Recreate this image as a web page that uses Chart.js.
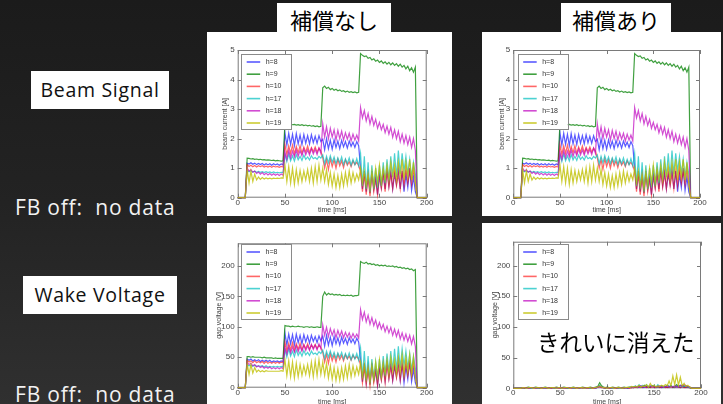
<!DOCTYPE html>
<html>
<head>
<meta charset="utf-8">
<script src="https://cdn.jsdelivr.net/npm/chart.js@4.4.1/dist/chart.umd.min.js"></script>
<style>
  html, body { margin: 0; padding: 0; }
  body {
    width: 723px; height: 404px; overflow: hidden; position: relative;
    background: linear-gradient(180deg, #1b1b1b 0%, #232323 50%, #303030 100%);
  }
  .white { position: absolute; background: #fff; }
  .head {
    position: absolute; background: #fff; color: #000; text-align: center;
    font-family: "Noto Sans CJK JP", sans-serif; font-size: 22px; line-height: 33px; height: 29px;
    overflow: visible;
  }
  .tag {
    position: absolute; background: #fff; color: #111; text-align: center; white-space: nowrap;
    font-family: "Open Sans", Lato, sans-serif; font-size: 19.5px; letter-spacing: 0.7px;
    line-height: 38px; height: 38px;
  }
  .note {
    position: absolute; color: #f2f2f2; white-space: pre;
    font-family: "Open Sans", Lato, sans-serif; font-size: 21px; letter-spacing: 0.8px; line-height: 24px;
  }
  .plot { position: absolute; }
  .gone {
    position: absolute; color: #000; white-space: nowrap;
    font-family: "Noto Sans CJK JP", sans-serif; font-size: 22.5px; line-height: 30px;
  }
</style>
</head>
<body>
  <div class="head" style="left:277px; top:3px; width:114px;">補償なし</div>
  <div class="head" style="left:561px; top:3px; width:110px;">補償あり</div>

  <div class="white" style="left:207px; top:32px; width:245px; height:184px;"></div>
  <div class="white" style="left:482px; top:32px; width:239px; height:184px;"></div>
  <div class="white" style="left:207px; top:223px; width:245px; height:190px;"></div>
  <div class="white" style="left:482px; top:223px; width:239px; height:190px;"></div>

  <div class="tag" style="left:31px; top:71px; width:138px;">Beam Signal</div>
  <div class="note" style="left:15px; top:195px;">FB off:  no data</div>
  <div class="tag" style="left:23px; top:276px; width:154px;">Wake Voltage</div>
  <div class="note" style="left:15px; top:382px;">FB off:  no data</div>

  <div class="plot" style="left:207px; top:32px; width:245px; height:184px;"><canvas id="beamOff"></canvas></div>
  <div class="plot" style="left:482px; top:32px; width:239px; height:184px;"><canvas id="beamOn"></canvas></div>
  <div class="plot" style="left:207px; top:223px; width:245px; height:190px;"><canvas id="gapOff"></canvas></div>
  <div class="plot" style="left:482px; top:223px; width:239px; height:190px;"><canvas id="gapOn"></canvas></div>

  <div class="gone" style="left:537px; top:326px;">きれいに消えた</div>

<script>
// time axis [ms], one sample every 2 ms
const timeMs = [0,2,4,6,8,10,12,14,16,18,20,22,24,26,28,30,32,34,36,38,40,42,44,46,48,
  50,52,54,56,58,60,62,64,66,68,70,72,74,76,78,80,82,84,86,88,
  90,92,94,96,98,100,102,104,106,108,110,112,114,116,118,120,122,124,126,128,
  130,132,134,136,138,140,142,144,146,148,150,152,154,156,158,160,162,164,166,168,170,172,174,176,178,180,182,184,186,188,
  190,192,194,196,198,200];

const harmonicLabels = ['h=8', 'h=9', 'h=10', 'h=17', 'h=18', 'h=19'];
const xTicks = [0, 50, 100, 150, 200];
const beamTicks = [0, 1, 2, 3, 4, 5];
const gapTicks = [0, 50, 100, 150, 200];

// beam current [A] per harmonic
const beamH8 = [0,0,0,0,0,1.17,1.14,1.18,1.13,1.17,1.12,1.16,1.12,1.16,1.11,1.15,1.11,1.15,1.10,1.15,1.11,1.14,1.10,1.14,1.11,
  2.20,1.78,2.18,1.80,2.15,1.76,2.17,1.82,2.12,1.80,2.14,1.84,2.10,1.82,2.13,1.86,2.08,1.84,2.10,1.90,
  1.98,1.62,2.00,1.66,1.95,1.64,1.96,1.70,1.92,1.66,1.94,1.72,1.90,1.68,1.92,1.74,1.88,1.70,1.90,1.76,
  1.00,0.30,0.90,0.20,0.80,0.15,0.90,0.30,0.70,0.10,0.80,0.35,0.90,0.30,1.00,0.40,0.90,0.30,0.80,0.45,1.00,0.30,0.90,0.20,0.80,0.35,1.00,0.25,0.70,0.20,
  0,0,0,0,0,0];
const beamH9 = [0,0,0,0,0,1.34,1.33,1.31,1.32,1.30,1.31,1.29,1.30,1.28,1.29,1.27,1.28,1.27,1.26,1.27,1.25,1.26,1.25,1.24,1.25,
  2.52,2.50,2.48,2.49,2.47,2.48,2.46,2.47,2.45,2.47,2.44,2.46,2.43,2.45,2.42,2.44,2.41,2.43,2.40,2.42,
  3.72,3.78,3.70,3.74,3.66,3.70,3.64,3.67,3.62,3.65,3.60,3.62,3.58,3.61,3.57,3.59,3.56,3.58,3.55,3.57,
  4.88,4.82,4.78,4.80,4.72,4.75,4.66,4.70,4.62,4.66,4.58,4.63,4.55,4.60,4.52,4.58,4.50,4.56,4.48,4.54,4.45,4.52,4.42,4.48,4.36,4.45,4.30,4.40,4.25,4.42,
  0,0,0,0,0,0];
const beamH10 = [0,0,0,0,0,1.12,1.06,1.10,1.05,1.09,1.04,1.08,1.05,1.08,1.04,1.07,1.04,1.07,1.03,1.07,1.04,1.06,1.03,1.06,1.04,
  1.80,1.46,1.76,1.50,1.78,1.48,1.74,1.52,1.76,1.50,1.72,1.54,1.75,1.52,1.70,1.56,1.72,1.54,1.68,1.58,
  1.35,1.00,1.30,0.95,1.32,1.05,1.28,1.00,1.30,1.08,1.25,1.02,1.28,1.10,1.22,1.05,1.25,1.12,1.20,1.08,
  0.90,0.20,0.80,0.10,0.70,0.05,0.80,0.20,0.60,0.10,0.70,0.30,0.80,0.20,0.90,0.35,0.80,0.30,0.90,0.40,0.80,0.30,0.90,0.40,1.00,0.50,0.90,0.45,1.00,0.50,
  0,0,0,0,0,0];
const beamH17 = [0,0,0,0,0,0.92,0.88,0.91,0.87,0.90,0.86,0.89,0.86,0.88,0.85,0.88,0.85,0.87,0.84,0.87,0.84,0.86,0.84,0.86,0.85,
  1.45,1.22,1.48,1.25,1.42,1.24,1.46,1.28,1.40,1.26,1.44,1.30,1.38,1.28,1.42,1.32,1.36,1.30,1.40,1.34,
  1.45,1.15,1.40,1.18,1.42,1.20,1.38,1.15,1.35,1.18,1.38,1.12,1.32,1.15,1.35,1.10,1.30,1.12,1.32,1.08,
  1.50,0.40,1.40,0.30,1.20,0.20,1.10,0.30,1.00,0.35,1.10,0.40,1.20,0.50,1.30,0.60,1.40,0.70,1.50,0.70,1.60,0.80,1.50,0.90,1.40,0.80,1.30,0.70,1.20,0.80,
  0,0,0,0,0,0];
const beamH18 = [0,0,0,0,0,1.00,0.90,0.95,0.86,0.90,0.82,0.87,0.80,0.85,0.78,0.83,0.77,0.82,0.76,0.81,0.76,0.80,0.75,0.80,0.76,
  1.55,1.30,1.60,1.35,1.58,1.38,1.62,1.40,1.60,1.42,1.65,1.45,1.62,1.44,1.66,1.48,1.64,1.46,1.68,1.50,
  2.50,2.05,2.40,2.00,2.35,2.05,2.30,1.95,2.28,2.00,2.25,1.95,2.20,1.98,2.18,1.92,2.15,1.95,2.12,1.92,
  3.05,2.70,2.95,2.60,2.85,2.50,2.75,2.45,2.65,2.35,2.55,2.30,2.48,2.20,2.42,2.15,2.38,2.05,2.30,2.00,2.25,1.90,2.15,1.85,2.10,1.80,2.05,1.70,2.00,1.60,
  0,0,0,0,0,0];
const beamH19 = [0,0,0,0,0,0.95,0.50,0.90,0.55,0.80,0.60,0.70,0.62,0.68,0.63,0.67,0.64,0.66,0.64,0.66,0.65,0.66,0.65,0.67,0.66,
  1.10,0.55,1.05,0.50,1.00,0.45,0.95,0.50,0.92,0.55,0.90,0.60,0.95,0.55,1.00,0.50,1.05,0.55,1.10,0.60,
  1.00,0.55,0.95,0.45,0.85,0.40,0.80,0.35,0.75,0.35,0.80,0.40,0.85,0.45,0.90,0.50,0.85,0.55,0.80,0.60,
  1.00,0.50,0.90,0.40,0.80,0.30,0.90,0.40,1.00,0.50,1.10,0.50,1.00,0.60,1.10,0.60,1.20,0.70,1.10,0.60,1.20,0.70,1.30,0.60,1.20,0.70,1.30,0.60,1.20,0.50,
  0,0,0,0,0,0];

// gap voltage [V] per harmonic, no compensation
const gapH8 = [0,0,0,0,0,47,45,47,44,46,44,46,43,45,43,45,43,45,42,44,43,44,42,44,43,
  90,70,88,72,87,70,88,74,86,72,87,75,85,73,86,76,84,74,85,77,
  85,68,86,70,83,69,84,72,82,70,83,73,81,71,82,74,80,72,81,75,
  45,10,40,8,35,5,40,12,30,4,35,14,40,12,45,16,40,12,35,18,45,12,40,8,35,14,45,10,30,8,
  0,0,0,0,0,0];
const gapH9 = [0,0,0,0,0,51,51,50,51,50,50,50,50,49,50,49,49,49,49,48,49,48,48,48,48,
  102,101,101,100,101,100,100,101,100,100,99,100,100,99,100,99,99,100,99,99,
  150,157,152,155,153,154,152,153,152,153,151,152,151,152,151,152,150,151,151,152,
  207,205,204,206,203,204,202,203,201,202,200,201,200,201,199,200,199,200,198,199,197,198,196,197,195,196,194,195,192,194,
  0,0,0,0,0,0];
const gapH10 = [0,0,0,0,0,45,42,44,41,44,41,43,41,43,40,43,40,42,40,42,40,42,40,42,41,
  75,60,73,62,74,61,72,63,73,62,71,64,72,63,70,65,71,64,70,66,
  58,42,55,40,56,44,54,42,55,46,53,44,54,47,52,45,53,48,51,47,
  38,8,34,5,30,3,34,8,26,4,30,12,34,8,38,14,34,12,38,16,34,12,38,16,42,20,38,18,42,20,
  0,0,0,0,0,0];
const gapH17 = [0,0,0,0,0,38,36,37,35,37,35,36,35,36,34,36,34,35,34,35,34,35,34,35,34,
  62,50,64,52,60,51,62,53,59,52,61,54,58,53,60,55,57,54,59,56,
  62,48,60,50,60,50,58,48,57,50,58,47,56,48,57,46,55,47,56,45,
  65,16,60,12,52,8,47,12,43,14,47,16,52,20,56,25,60,28,64,28,68,32,64,36,60,32,56,28,52,32,
  0,0,0,0,0,0];
const gapH18 = [0,0,0,0,0,42,38,40,36,38,34,36,33,35,32,34,32,34,31,33,31,33,31,33,31,
  66,55,68,57,67,58,69,59,68,60,70,61,69,61,71,63,70,62,72,64,
  103,86,99,84,97,86,95,82,94,84,93,82,91,83,90,81,89,82,88,81,
  128,112,124,108,119,104,115,102,111,98,107,96,104,92,101,90,99,86,96,84,94,80,90,78,88,76,86,72,84,68,
  0,0,0,0,0,0];
const gapH19 = [0,0,0,0,0,40,22,38,24,33,26,29,26,28,26,28,27,27,27,27,27,27,27,28,27,
  46,20,44,18,42,16,40,18,38,20,36,22,38,20,42,18,44,20,46,22,
  42,20,40,16,36,14,33,12,31,12,33,14,36,16,38,18,36,20,34,22,
  42,18,38,14,34,10,38,14,42,18,46,18,42,22,46,22,50,26,46,22,50,26,54,22,50,26,54,22,50,18,
  0,0,0,0,0,0];

// gap voltage [V] per harmonic, with compensation
const compH8 = [0,0,0,0,0,1,0,1,1,0,1,1,0,1,0,1,1,0,1,1,0,1,1,0,1,
  1,0,1,1,0,1,1,0,1,1,0,1,1,0,1,1,0,1,1,0,
  2,4,2,1,0,1,1,0,1,1,0,1,1,0,1,1,0,1,2,1,
  3,1,2,4,1,2,3,1,2,4,2,1,3,2,1,2,3,1,2,4,1,2,3,2,1,3,2,1,2,1,
  0,0,0,0,0,0];
const compH9 = [0,0,0,0,0,1,1,1,2,1,1,1,2,1,1,1,1,2,1,1,1,1,1,2,1,
  1,1,2,1,1,1,1,2,1,1,1,1,2,1,1,1,2,1,1,2,
  3,9,4,2,1,2,1,1,2,1,1,2,1,1,2,1,1,2,1,2,
  3,2,4,2,3,5,2,3,2,4,3,2,3,2,4,3,2,5,3,4,2,3,6,3,4,5,3,4,3,2,
  0,0,0,0,0,0];
const compH10 = [0,0,0,0,0,1,0,1,0,1,1,0,1,0,1,0,1,1,0,1,0,1,0,1,1,
  0,1,1,0,1,0,1,1,0,1,0,1,0,1,1,0,1,0,1,1,
  2,3,1,1,0,1,0,1,1,0,1,0,1,1,0,1,1,0,1,1,
  2,1,3,1,2,4,1,2,1,3,2,1,4,1,2,3,1,2,1,3,2,1,4,2,1,3,1,2,1,1,
  0,0,0,0,0,0];
const compH17 = [0,0,0,0,0,1,1,0,1,1,0,1,1,0,1,1,0,1,1,0,1,1,0,1,1,
  1,0,1,1,0,1,1,0,1,1,0,1,1,0,1,1,0,1,1,1,
  2,5,2,1,1,0,1,1,0,1,1,0,1,1,0,1,1,2,1,2,
  4,2,6,2,5,3,6,2,4,3,5,2,6,3,4,2,3,5,2,4,3,2,4,3,5,2,4,3,2,1,
  0,0,0,0,0,0];
const compH18 = [0,0,0,0,0,1,1,1,0,1,1,1,0,1,1,1,0,1,1,1,0,1,1,1,0,
  1,1,0,1,1,1,0,1,1,1,0,1,1,1,0,1,1,1,0,1,
  2,3,2,1,1,1,0,1,1,1,0,1,1,1,0,1,1,1,2,1,
  2,3,2,4,2,3,2,3,4,2,3,2,3,4,2,3,2,4,3,2,3,4,2,3,5,3,6,4,3,2,
  0,0,0,0,0,0];
const compH19 = [0,0,0,0,0,1,1,0,1,1,1,0,1,1,1,0,1,1,1,0,1,1,1,0,1,
  1,0,1,1,1,0,1,1,1,0,1,1,1,0,1,1,1,0,1,1,
  2,4,2,1,1,0,1,1,1,0,1,1,1,0,1,1,2,1,3,2,
  3,2,5,2,4,3,6,2,8,3,5,2,4,3,5,3,6,4,12,4,20,6,22,5,18,4,8,3,5,2,
  0,0,0,0,0,0];

// classic matplotlib colour cycle, drawn semi-transparent
const lineColors = ['rgba(0,0,255,0.65)', 'rgba(0,128,0,0.75)', 'rgba(255,0,0,0.6)',
                    'rgba(0,191,191,0.7)', 'rgba(191,0,191,0.7)', 'rgba(191,191,0,0.8)'];

const axisFont = { family: 'Liberation Sans, Arial, sans-serif', size: 8 };
const titleFont = { family: 'Liberation Sans, Arial, sans-serif', size: 7 };
const textColor = '#444';

// matplotlib-style frame with inward ticks on all four sides
const framePlugin = {
  id: 'frame',
  beforeDatasetsDraw(chart) {
    const { ctx, chartArea: a, scales } = chart;
    ctx.save();
    ctx.strokeStyle = '#7a7a7a';
    ctx.lineWidth = 1;
    ctx.strokeRect(a.left + 0.5, a.top + 0.5, a.right - a.left - 1, a.bottom - a.top - 1);
    ctx.beginPath();
    scales.x.ticks.forEach(t => {
      const px = Math.round(scales.x.getPixelForValue(t.value)) + 0.5;
      ctx.moveTo(px, a.bottom); ctx.lineTo(px, a.bottom - 4);
      ctx.moveTo(px, a.top); ctx.lineTo(px, a.top + 4);
    });
    scales.y.ticks.forEach(t => {
      const py = Math.round(scales.y.getPixelForValue(t.value)) + 0.5;
      ctx.moveTo(a.left, py); ctx.lineTo(a.left + 4, py);
      ctx.moveTo(a.right, py); ctx.lineTo(a.right - 4, py);
    });
    ctx.stroke();
    ctx.restore();
  }
};

// boxed legend in the upper-left corner of the plot area
const boxLegendPlugin = {
  id: 'boxLegend',
  afterDatasetsDraw(chart, args, opts) {
    const { ctx, chartArea: a } = chart;
    const x0 = a.left + opts.dx, y0 = a.top + opts.dy, w = 50, h = 75;
    ctx.save();
    ctx.fillStyle = '#fff';
    ctx.fillRect(x0, y0, w, h);
    ctx.strokeStyle = '#8a8a8a';
    ctx.lineWidth = 1;
    ctx.strokeRect(Math.round(x0) + 0.5, Math.round(y0) + 0.5, w, h);
    ctx.font = '7px "Liberation Sans", Arial, sans-serif';
    ctx.textBaseline = 'middle';
    chart.data.datasets.forEach((ds, i) => {
      const yy = y0 + 8 + i * 12.2;
      ctx.strokeStyle = ds.borderColor;
      ctx.lineWidth = 1.6;
      ctx.beginPath();
      ctx.moveTo(x0 + 5.5, yy); ctx.lineTo(x0 + 19, yy);
      ctx.stroke();
      ctx.fillStyle = '#333';
      ctx.fillText(ds.label, x0 + 24.5, yy);
    });
    ctx.restore();
  }
};

function buildChart(canvasId, seriesValues, cfg) {
  const datasets = seriesValues.map((vals, i) => ({
    label: harmonicLabels[i],
    data: timeMs.map((t, k) => ({ x: t, y: vals[k] })),
    borderColor: lineColors[i],
    borderWidth: 1.2,
    pointRadius: 0,
    tension: 0,
    clip: false,
    order: seriesValues.length - i
  }));
  return new Chart(document.getElementById(canvasId), {
    type: 'line',
    data: { datasets },
    plugins: [framePlugin, boxLegendPlugin],
    options: {
      responsive: true,
      maintainAspectRatio: false,
      animation: false,
      events: [],
      layout: { padding: { left: 0, right: cfg.padRight, top: cfg.padTop, bottom: 0 } },
      plugins: {
        legend: { display: false },
        tooltip: { enabled: false },
        boxLegend: { dx: cfg.legendDx, dy: cfg.legendDy }
      },
      scales: {
        x: {
          type: 'linear', min: 0, max: 200,
          afterBuildTicks: s => { s.ticks = xTicks.map(v => ({ value: v })); },
          ticks: { font: axisFont, color: textColor, padding: 0, maxRotation: 0, autoSkip: false },
          grid: { display: false, drawTicks: false },
          border: { display: false },
          title: { display: true, text: 'time [ms]', font: titleFont, color: textColor,
                   padding: { top: 0, bottom: cfg.xTitlePad } },
          afterFit: s => { s.height = cfg.xHeight; }
        },
        y: {
          type: 'linear', min: 0, max: cfg.yMax,
          afterBuildTicks: s => { s.ticks = cfg.yTicks.map(v => ({ value: v })); },
          ticks: { font: axisFont, color: textColor, padding: 3, autoSkip: false },
          grid: { display: false, drawTicks: false },
          border: { display: false },
          title: { display: true, text: cfg.yTitle, font: titleFont, color: textColor,
                   padding: { top: cfg.yTitlePad, bottom: 0 } },
          afterFit: s => { s.width = cfg.yWidth; }
        }
      }
    }
  });
}

buildChart('beamOff', [beamH8, beamH9, beamH10, beamH17, beamH18, beamH19], {
  yMax: 5, yTicks: beamTicks, yTitle: 'beam current [A]',
  padRight: 25.3, padTop: 18, yWidth: 30.7, xHeight: 18.3,
  yTitlePad: 13.8, xTitlePad: 1.8, legendDx: 3.5, legendDy: 4
});
buildChart('beamOn', [beamH8, beamH9, beamH10, beamH17, beamH18, beamH19], {
  yMax: 5, yTicks: beamTicks, yTitle: 'beam current [A]',
  padRight: 21, padTop: 18, yWidth: 31.3, xHeight: 18.3,
  yTitlePad: 15.8, xTitlePad: 1.8, legendDx: 4.4, legendDy: 4
});
buildChart('gapOff', [gapH8, gapH9, gapH10, gapH17, gapH18, gapH19], {
  yMax: 237, yTicks: gapTicks, yTitle: 'gap voltage [V]',
  padRight: 25.3, padTop: 20.3, yWidth: 30.7, xHeight: 25.3,
  yTitlePad: 7.8, xTitlePad: 7.1, legendDx: 3.3, legendDy: 0.7
});
buildChart('gapOn', [compH8, compH9, compH10, compH17, compH18, compH19], {
  yMax: 239, yTicks: gapTicks, yTitle: 'gap voltage [V]',
  padRight: 20, padTop: 18.7, yWidth: 31.3, xHeight: 24.7,
  yTitlePad: 8.8, xTitlePad: 7.1, legendDx: 4.4, legendDy: 2.3
});
</script>
</body>
</html>
